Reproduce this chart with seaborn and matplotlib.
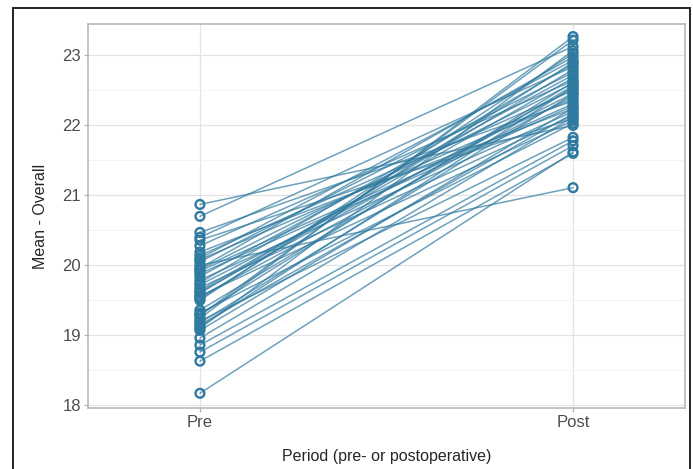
import numpy as np
import pandas as pd
import seaborn as sns
import matplotlib.pyplot as plt
from matplotlib.patches import Rectangle
from matplotlib.ticker import MultipleLocator

# pre- and postoperative means, one entry per subject (same order)
pre_values = [20.87, 20.70, 20.47, 20.40, 20.36, 20.28, 20.19, 20.14, 20.10, 20.08,
              20.05, 20.00, 19.96, 19.94, 19.92, 19.88, 19.84, 19.79, 19.75, 19.72,
              19.68, 19.64, 19.62, 19.60, 19.56, 19.55, 19.52, 19.50, 19.36, 19.32,
              19.30, 19.28, 19.24, 19.20, 19.18, 19.15, 19.12, 19.10, 19.07, 18.96,
              18.86, 18.76, 18.63, 18.17]
post_values = [22.00, 23.13, 22.35, 22.84, 22.10, 22.64, 22.24, 22.50, 22.93, 22.38,
               22.76, 21.11, 22.98, 22.60, 22.31, 22.28, 22.72, 22.20, 22.88, 22.46,
               22.14, 22.68, 22.53, 22.80, 22.07, 22.42, 22.90, 23.03, 22.57, 22.03,
               22.62, 23.22, 23.27, 21.83, 22.45, 22.17, 22.55, 23.07, 22.25, 22.12,
               21.78, 21.71, 21.60, 21.62]
periods = ["Pre", "Post"]

n = len(pre_values)
df = pd.DataFrame({
    "subject": list(range(n)) * 2,
    "period": ["Pre"] * n + ["Post"] * n,
    "value": pre_values + post_values,
})
df["x"] = df["period"].map({p: i for i, p in enumerate(periods)})

sns.set_style("white")
plt.rcParams["font.family"] = ["Liberation Sans", "DejaVu Sans"]

fig = plt.figure(figsize=(6.93, 4.69), dpi=100)
ax = fig.add_axes([88 / 693, 1 - 408 / 469, 597 / 693, 384 / 469])

color = "#2f7aa0"
sns.lineplot(data=df, x="x", y="value", units="subject", estimator=None,
             color=color, alpha=0.7, linewidth=1.1, ax=ax, zorder=2)
sns.scatterplot(data=df, x="x", y="value", marker="o", s=40,
                facecolor="none", edgecolor=color, linewidth=1.7, ax=ax, zorder=3)

ax.set_xlim(-0.3, 1.3)
ax.set_ylim(17.96, 23.45)
ax.set_xticks([0, 1])
ax.set_xticklabels(periods)
ax.yaxis.set_major_locator(MultipleLocator(1))
ax.yaxis.set_minor_locator(MultipleLocator(0.5))

ax.grid(True, which="major", color="#e3e3e3", linewidth=0.9)
ax.grid(True, which="minor", axis="y", color="#f2f2f2", linewidth=0.6)
ax.set_axisbelow(True)
for sp in ax.spines.values():
    sp.set_color("#b3b3b3")
    sp.set_linewidth(1.1)

ax.tick_params(axis="both", which="major", length=3, width=0.9, color="#b3b3b3",
               labelsize=12, labelcolor="#4d4d4d", pad=2, left=True, bottom=True)
ax.tick_params(axis="both", which="minor", length=0)

ax.set_xlabel("Period (pre- or postoperative)", fontsize=11.5, labelpad=14)
ax.set_ylabel("Mean - Overall", fontsize=11.5, labelpad=10)

# outer frame of the figure image
fig.patches.append(Rectangle((13 / 693, -0.05), 677 / 693, 1.05 - 8 / 469,
                             transform=fig.transFigure, fill=False,
                             edgecolor="#222222", linewidth=1.4))

fig.savefig("out.png", dpi=100)
